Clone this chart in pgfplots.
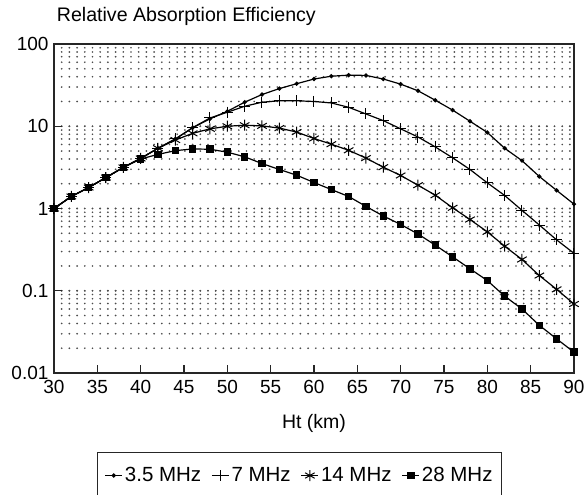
\documentclass[border=0pt]{standalone}
\usepackage{fontspec}
\setmainfont{Liberation Sans}
\usepackage{pgfplots}
\usepackage{pgfplotstable}
\pgfplotsset{compat=1.18}
\pgfplotstableread{
x f35 f7 f14 f28
30 1.00 1.00 1.00 1.00
32 1.40 1.40 1.40 1.40
34 1.80 1.80 1.80 1.80
36 2.38 2.38 2.38 2.38
38 3.16 3.16 3.16 3.16
40 4.06 4.06 4.06 4.00
42 5.40 5.40 5.40 4.55
44 7.00 7.00 6.80 5.05
46 9.60 9.60 8.20 5.30
48 12.3 12.6 9.30 5.25
50 15.2 14.8 10.0 4.84
52 19.6 17.5 10.3 4.25
54 24.3 19.6 10.1 3.52
56 28.7 20.4 9.50 2.98
58 32.9 20.4 8.50 2.54
60 37.5 20.0 7.10 2.07
62 40.6 19.2 6.05 1.70
64 41.8 17.0 5.10 1.40
66 41.5 14.1 4.10 1.06
68 37.5 11.7 3.18 0.81
70 32.5 9.30 2.52 0.64
72 27.0 7.40 1.92 0.49
74 20.7 5.60 1.45 0.358
76 15.7 4.13 1.02 0.258
78 11.5 2.98 0.735 0.185
80 8.40 2.05 0.52 0.133
82 5.40 1.44 0.348 0.086
84 3.82 0.95 0.24 0.060
86 2.45 0.63 0.153 0.038
88 1.66 0.415 0.104 0.026
90 1.13 0.285 0.069 0.0179
}\datatable
\begin{document}
\begin{tikzpicture}
\useasboundingbox (-54pt,-122pt) rectangle (532pt,373pt);
\begin{axis}[
  at={(0,0)}, anchor=south west,
  scale only axis, width=520pt, height=329pt,
  ymode=log, xmin=30, xmax=90, ymin=0.01, ymax=100,
  clip=false,
  axis line style={line width=1.5pt, black!85},
  xtick={30,35,...,90},
  xticklabels={30,35,40,45,50,55,60,65,70,75,80,85,90},
  ytick={0.01,0.1,1,10,100},
  yticklabels={0.01,0.1,1,10,100},
  tick pos=left,
  tick align=inside,
  major tick length=8pt,
  minor tick length=0pt,
  tick style={line width=1.3pt, black!85},
  ymajorgrids, yminorgrids,
  major grid style={line width=1.9pt, dash pattern=on 0pt off 7.7pt, line cap=round, black!70},
  minor grid style={line width=1.9pt, dash pattern=on 0pt off 7.7pt, line cap=round, black!70},
  ticklabel style={font=\fontsize{19}{21}\selectfont},
  xticklabel style={yshift=-4pt},
  yticklabel style={xshift=-2pt},
  xlabel={Ht (km)},
  xlabel style={at={(axis description cs:0.5,0)}, anchor=center, yshift=-50pt, font=\fontsize{19.5}{22}\selectfont},
  title={Relative Absorption Efficiency},
  title style={at={(axis description cs:0,1)}, anchor=base west, xshift=2.7pt, yshift=16pt, inner sep=0pt, font=\fontsize{19.6}{22}\selectfont},
  legend columns=4,
  legend style={at={(axis description cs:0.0827,-0.240)}, anchor=north west,
    draw=black!85, line width=1.3pt, font=\fontsize{20.5}{23}\selectfont,
    inner xsep=7pt, inner ysep=13pt,
    /tikz/every even column/.append style={column sep=8pt}},
  every axis plot/.append style={line width=1.2pt, black},
]
\addplot[mark=*, mark size=1.5pt] table[x=x, y=f35] {\datatable};
\addlegendentry{3.5 MHz}
\addplot[mark=+, mark size=5.5pt, mark options={line width=1pt}] table[x=x, y=f7] {\datatable};
\addlegendentry{7 MHz}
\addplot[mark=asterisk, mark size=5.5pt, mark options={line width=1pt}] table[x=x, y=f14] {\datatable};
\addlegendentry{14 MHz}
\addplot[mark=square*, mark size=3.2pt] table[x=x, y=f28] {\datatable};
\addlegendentry{28 MHz}
\end{axis}
\end{tikzpicture}
\end{document}
